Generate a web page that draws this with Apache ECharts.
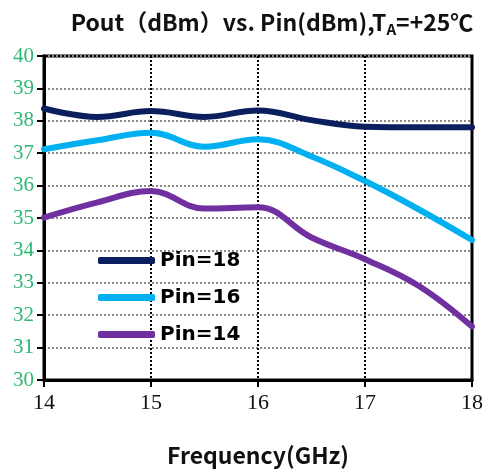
<!DOCTYPE html>
<html>
<head>
<meta charset="utf-8">
<script src="https://cdn.jsdelivr.net/npm/echarts@6/dist/echarts.min.js"></script>
<style>
  html, body { margin: 0; padding: 0; background: #fff; }
  #chart { width: 487px; height: 472px; }
</style>
</head>
<body>
<div id="chart"></div>
<script>
// Frequency points (GHz)
const freq = [14, 14.5, 15, 15.5, 16, 16.5, 17, 17.5, 18];

// Output power (dBm) for each input drive level
const pin18 = [38.38, 38.12, 38.30, 38.12, 38.32, 38.02, 37.82, 37.80, 37.80];
const pin16 = [37.12, 37.40, 37.63, 37.20, 37.43, 36.90, 36.14, 35.27, 34.32];
const pin14 = [35.01, 35.48, 35.83, 35.29, 35.33, 34.40, 33.73, 32.91, 31.65];

const seriesNames = ['Pin=18', 'Pin=16', 'Pin=14'];
const seriesColors = ['#0b1f5e', '#00b0f0', '#7030a0'];

const xTicks = [14, 15, 16, 17, 18];
const yTicks = [30, 31, 32, 33, 34, 35, 36, 37, 38, 39, 40];

const serifFont = 'Liberation Serif';
const sansFont = 'Noto Sans CJK SC';

const pair = (vals) => freq.map((f, i) => [f, vals[i]]);

const chart = echarts.init(document.getElementById('chart'));

chart.setOption({
  animation: false,
  backgroundColor: '#fff',
  // tick numbers use a serif face; titles and legend override this below
  textStyle: { fontFamily: serifFont },
  title: {
    text: 'Pout（dBm）vs. Pin(dBm),T{sub|A}=+25℃',
    left: 267,
    textAlign: 'center',
    top: 3,
    textStyle: {
      fontFamily: sansFont,
      fontSize: 23,
      fontWeight: 600,
      color: '#111',
      rich: {
        sub: {
          fontFamily: sansFont,
          fontSize: 15,
          fontWeight: 600,
          color: '#111',
          verticalAlign: 'bottom',
          padding: [14, 0, 0, 0]
        }
      }
    }
  },
  legend: {
    orient: 'vertical',
    left: 93,
    top: 245,
    itemWidth: 57,
    itemHeight: 7,
    itemGap: 16,
    icon: 'roundRect',
    data: seriesNames,
    textStyle: {
      fontFamily: 'DejaVu Sans',
      fontWeight: 'bold',
      fontSize: 20,
      color: '#000',
      lineHeight: 21
    }
  },
  grid: {
    left: 44,
    right: 15,
    top: 56,
    bottom: 91,
    show: true,
    borderColor: '#000',
    borderWidth: 3
  },
  xAxis: {
    type: 'value',
    min: xTicks[0],
    max: xTicks[xTicks.length - 1],
    interval: 1,
    name: 'Frequency(GHz)',
    nameLocation: 'middle',
    nameGap: 64,
    nameTextStyle: {
      fontFamily: sansFont,
      fontSize: 23,
      fontWeight: 600,
      color: '#111'
    },
    axisLine: { lineStyle: { color: '#000', width: 3 } },
    axisTick: { show: true, length: 7, lineStyle: { color: '#000', width: 2 } },
    axisLabel: {
      margin: 12,
      fontFamily: serifFont,
      fontSize: 22,
      color: '#111'
    },
    splitLine: {
      show: true,
      lineStyle: { color: '#000', type: [2, 2], width: 2 }
    }
  },
  yAxis: {
    type: 'value',
    min: yTicks[0],
    max: yTicks[yTicks.length - 1],
    interval: 1,
    axisLine: { show: true, lineStyle: { color: '#000', width: 3 } },
    axisTick: { show: true, length: 7, lineStyle: { color: '#000', width: 2 } },
    axisLabel: {
      margin: 10,
      fontFamily: serifFont,
      fontSize: 21,
      color: '#2eb872'
    },
    splitLine: {
      show: true,
      lineStyle: { color: '#888', type: [2, 2], width: 2 }
    }
  },
  series: [pin18, pin16, pin14].map((vals, i) => ({
    name: seriesNames[i],
    type: 'line',
    data: pair(vals),
    smooth: 0.4,
    showSymbol: false,
    symbol: 'none',
    color: seriesColors[i],
    lineStyle: { width: 6, color: seriesColors[i], cap: 'round' },
    z: 3
  }))
});
</script>
</body>
</html>
